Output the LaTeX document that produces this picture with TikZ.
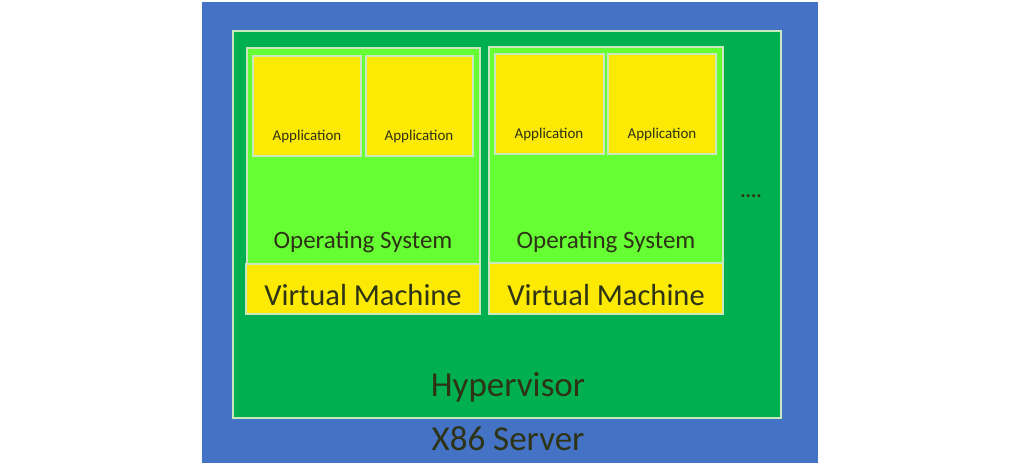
\documentclass[tikz,border=0pt]{standalone}
\usepackage{fontspec}
\setmainfont{Carlito}
\definecolor{srvblue}{HTML}{4472C4}
\definecolor{hvgreen}{HTML}{00B050}
\definecolor{osgreen}{HTML}{66FF33}
\definecolor{appyellow}{HTML}{FCEA04}
\definecolor{edge}{HTML}{C9E8C0}
\definecolor{txt}{HTML}{2E3315}
\begin{document}
\begin{tikzpicture}[x=1pt,y=-1pt,
  box/.style={anchor=north west,inner sep=0pt,outer sep=0pt,line width=1.2pt,draw=edge},
  lbl/.style={text=txt,inner sep=0pt}]
\useasboundingbox (0,0) rectangle (1019,465);
\fill[white] (0,0) rectangle (1019,465);
% server
\node[box,fill=srvblue,draw=none,minimum width=616pt,minimum height=461pt] (srv) at (202,2) {};
% hypervisor
\node[box,fill=hvgreen,minimum width=548pt,minimum height=387pt] (hv) at (233,31) {};
% VM 1
\node[box,fill=osgreen,minimum width=233pt,minimum height=266pt] (vmA) at (247,48) {};
\node[box,fill=appyellow,minimum width=234pt,minimum height=50pt] (vmAbar) at (246,264) {};
\node[box,fill=appyellow,minimum width=108pt,minimum height=100pt] (appA1) at (253,56) {};
\node[box,fill=appyellow,minimum width=107pt,minimum height=100pt] (appA2) at (366,56) {};
% VM 2
\node[box,fill=osgreen,minimum width=234pt,minimum height=266pt] (vmB) at (489,47) {};
\node[box,fill=appyellow,minimum width=234pt,minimum height=51pt] (vmBbar) at (489,263) {};
\node[box,fill=appyellow,minimum width=109pt,minimum height=100pt] (appB1) at (495,54) {};
\node[box,fill=appyellow,minimum width=108pt,minimum height=100pt] (appB2) at (608,54) {};
% labels
\node[lbl,font=\fontsize{15}{15}\selectfont] (tA1) at (307,137) {Application};
\node[lbl,font=\fontsize{15}{15}\selectfont] (tA2) at (419,137) {Application};
\node[lbl,font=\fontsize{15}{15}\selectfont] (tB1) at (549,135) {Application};
\node[lbl,font=\fontsize{15}{15}\selectfont] (tB2) at (662,135) {Application};
\node[lbl,font=\fontsize{25}{25}\selectfont] (osA) at (363,242) {Operating System};
\node[lbl,font=\fontsize{25}{25}\selectfont] (osB) at (606,242) {Operating System};
\node[lbl,font=\fontsize{30.5}{30}\selectfont] (vmAt) at (363,295) {Virtual Machine};
\node[lbl,font=\fontsize{30.5}{30}\selectfont] (vmBt) at (606,295) {Virtual Machine};
\node[lbl,font=\fontsize{35}{35}\selectfont] (hvt) at (508,387) {Hypervisor};
\node[lbl,font=\fontsize{35}{35}\selectfont] (srvt) at (508,439) {X86 Server};
\node[lbl,font=\fontsize{20}{20}\selectfont\bfseries] (dots) at (751,196) {....};
\end{tikzpicture}
\end{document}
